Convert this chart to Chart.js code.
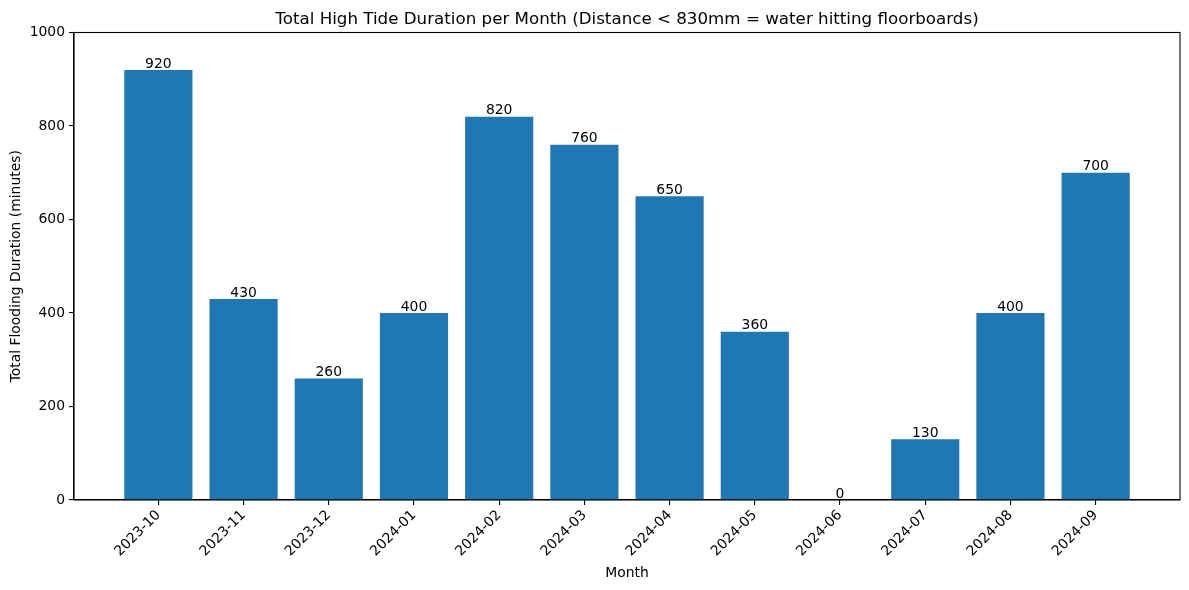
<!DOCTYPE html>
<html>
<head>
<meta charset="utf-8">
<script src="https://cdn.jsdelivr.net/npm/chart.js@4/dist/chart.umd.min.js"></script>
<style>
html,body{margin:0;padding:0;background:#fff;}
#wrap{width:1189px;height:590px;position:relative;}
</style>
</head>
<body>
<div id="wrap"><canvas id="c" width="1189" height="590"></canvas></div>
<script>
const months = ["2023-10","2023-11","2023-12","2024-01","2024-02","2024-03","2024-04","2024-05","2024-06","2024-07","2024-08","2024-09"];
const durations = [920, 430, 260, 400, 820, 760, 650, 360, 0, 130, 400, 700];
const yTicks = [0, 200, 400, 600, 800, 1000];
const titleText = "Total High Tide Duration per Month (Distance < 830mm = water hitting floorboards)";
const xTitle = "Month";
const yTitle = "Total Flooding Duration (minutes)";

const FONT = "'DejaVu Sans', sans-serif";

const extras = {
  id: 'extras',
  afterDraw(chart) {
    const ctx = chart.ctx;
    const a = chart.chartArea;
    ctx.save();
    ctx.strokeStyle = '#000';
    ctx.lineWidth = 1.1;
    ctx.strokeRect(a.left, a.top, a.right - a.left, a.bottom - a.top);
    ctx.fillStyle = '#000';
    ctx.font = "16.7px " + FONT;
    ctx.textAlign = 'center';
    ctx.textBaseline = 'alphabetic';
    ctx.fillText(titleText, (a.left + a.right) / 2, a.top - 9);
    ctx.font = "13.9px " + FONT;
    ctx.textBaseline = 'bottom';
    const meta = chart.getDatasetMeta(0);
    meta.data.forEach((bar, i) => {
      ctx.fillText(String(durations[i]), bar.x, bar.y + 1);
    });
    ctx.restore();
  }
};

new Chart(document.getElementById('c'), {
  type: 'bar',
  data: {
    datasets: [{
      data: durations.map((v, i) => ({x: i, y: v})),
      backgroundColor: '#1f77b4',
      borderWidth: 0,
      inflateAmount: 0,
      categoryPercentage: 1.0,
      barPercentage: 0.8
    }]
  },
  options: {
    responsive: false,
    animation: false,
    devicePixelRatio: 1,
    layout: {padding: {top: 32.5, right: 9, left: 0, bottom: 0}},
    plugins: {legend: {display: false}, tooltip: {enabled: false}, title: {display: false}},
    scales: {
      x: {
        type: 'linear',
        offset: false,
        min: -0.99,
        max: 11.99,
        afterBuildTicks(s) { s.ticks = months.map((m, i) => ({value: i})); },
        afterFit(s) { s.height = 90; },
        ticks: {
          autoSkip: false,
          minRotation: 45,
          maxRotation: 45,
          color: '#000',
          font: {family: FONT, size: 13.9},
          padding: 2,
          callback: (v) => months[v] !== undefined ? months[v] : ''
        },
        grid: {display: true, offset: false, drawOnChartArea: false, drawTicks: true, tickLength: 5, color: '#000', lineWidth: 1.1},
        border: {display: true, color: '#000', width: 1.1},
        title: {display: true, text: xTitle, color: '#000', font: {family: FONT, size: 13.9}, padding: {top: 0, bottom: 8}}
      },
      y: {
        min: 0,
        max: 1000,
        afterBuildTicks(s) { s.ticks = yTicks.map(v => ({value: v})); },
        afterFit(s) { s.width = 74; },
        ticks: {color: '#000', font: {family: FONT, size: 13.9}, padding: 4, callback: (v) => String(v)},
        grid: {display: true, drawOnChartArea: false, drawTicks: true, tickLength: 5, color: '#000', lineWidth: 1.1},
        border: {display: true, color: '#000', width: 1.1},
        title: {display: true, text: yTitle, color: '#000', font: {family: FONT, size: 13.9}, padding: {top: 8, bottom: 0}}
      }
    }
  },
  plugins: [extras]
});
</script>
</body>
</html>
